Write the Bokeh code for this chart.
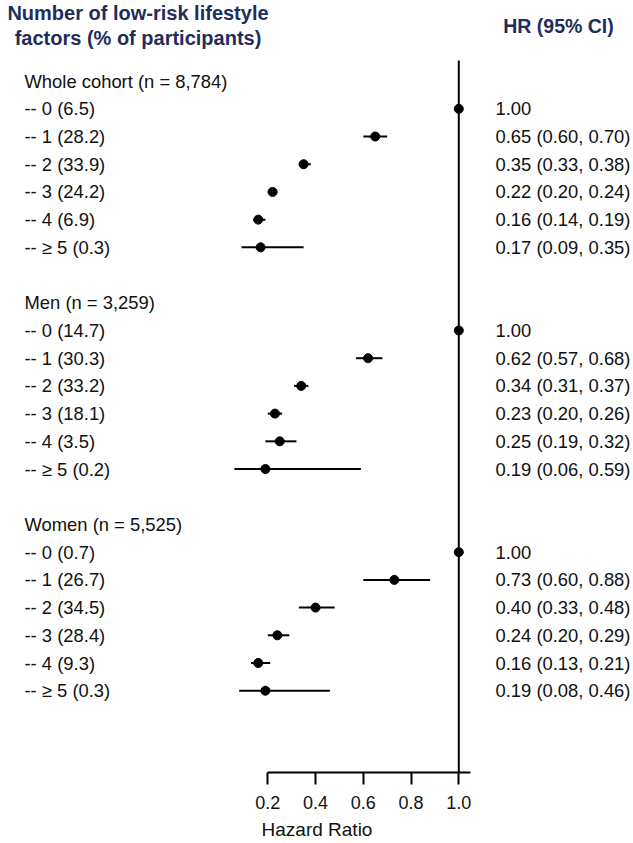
from bokeh.plotting import figure
from bokeh.models import Range1d, FixedTicker
from bokeh.core.properties import value
from bokeh.embed import file_html
from bokeh.resources import INLINE

# ---------------- data ----------------
group_labels = ["Whole cohort (n = 8,784)", "Men (n = 3,259)", "Women (n = 5,525)"]
levels = ["0", "1", "2", "3", "4", "\u2265 5"]

pct_whole = [6.5, 28.2, 33.9, 24.2, 6.9, 0.3]
hr_whole = [1.00, 0.65, 0.35, 0.22, 0.16, 0.17]
lo_whole = [1.00, 0.60, 0.33, 0.20, 0.14, 0.09]
hi_whole = [1.00, 0.70, 0.38, 0.24, 0.19, 0.35]

pct_men = [14.7, 30.3, 33.2, 18.1, 3.5, 0.2]
hr_men = [1.00, 0.62, 0.34, 0.23, 0.25, 0.19]
lo_men = [1.00, 0.57, 0.31, 0.20, 0.19, 0.06]
hi_men = [1.00, 0.68, 0.37, 0.26, 0.32, 0.59]

pct_women = [0.7, 26.7, 34.5, 28.4, 9.3, 0.3]
hr_women = [1.00, 0.73, 0.40, 0.24, 0.16, 0.19]
lo_women = [1.00, 0.60, 0.33, 0.20, 0.13, 0.08]
hi_women = [1.00, 0.88, 0.48, 0.29, 0.21, 0.46]

tick_values = [0.2, 0.4, 0.6, 0.8, 1.0]
tick_labels = ["0.2", "0.4", "0.6", "0.8", "1.0"]
null_value = 1.0

# ---------------- layout helpers ----------------
FW, FH = 633, 772
PX_PER_UNIT = 238.75
PAGE_X_AT_02 = 267.3
ROW_PX = 27.71
ROW0_PAGE_Y = 80.6
ORIGIN = 0  # page offset of the figure

x_start = 0.2 - (PAGE_X_AT_02 - ORIGIN) / PX_PER_UNIT
x_end = x_start + FW / PX_PER_UNIT
y_top = (ORIGIN - ROW0_PAGE_Y) / ROW_PX
y_bottom = y_top + FH / ROW_PX


def px_x(page_x):
    return x_start + (page_x - ORIGIN) / PX_PER_UNIT


def px_row(page_y):
    return (page_y - ROW0_PAGE_Y) / ROW_PX


groups = [
    (group_labels[0], pct_whole, hr_whole, lo_whole, hi_whole),
    (group_labels[1], pct_men, hr_men, lo_men, hi_men),
    (group_labels[2], pct_women, hr_women, lo_women, hi_women),
]

left_text, left_y = [], []
hr_text, hr_y = [], []
pt_x, pt_y = [], []
ci_lo, ci_hi, ci_y = [], [], []

row = 0
for gname, pct, hr, lo, hi in groups:
    left_text.append(gname)
    left_y.append(row)
    row += 1
    for lev, pc, h, l, u in zip(levels, pct, hr, lo, hi):
        left_text.append(f"-- {lev} ({pc})")
        left_y.append(row)
        pt_x.append(h)
        pt_y.append(row)
        if l == u == h:
            hr_text.append(f"{h:.2f}")
        else:
            hr_text.append(f"{h:.2f} ({l:.2f}, {u:.2f})")
            ci_lo.append(l)
            ci_hi.append(u)
            ci_y.append(row)
        hr_y.append(row)
        row += 1
    row += 1

FONT = value("Liberation Sans")
NAVY = "#1f2d5c"
INK = "#111111"

p = figure(
    frame_width=FW, frame_height=FH,
    x_range=Range1d(x_start, x_end), y_range=Range1d(y_bottom, y_top),
    output_backend="svg", toolbar_location=None,
    y_axis_location=None,
    min_border_left=0, min_border_right=0, min_border_top=0, min_border_bottom=0,
)
p.outline_line_color = None
p.xgrid.visible = False
p.ygrid.visible = False
p.background_fill_color = "white"
p.border_fill_color = "white"

# reference line at HR = 1
p.segment(x0=[null_value], y0=[px_row(60)], x1=[null_value], y1=[y_bottom],
          line_color="black", line_width=2)

# confidence intervals
p.segment(x0=ci_lo, y0=ci_y, x1=ci_hi, y1=ci_y, line_color="black", line_width=2)

# point estimates
p.scatter(pt_x, pt_y, marker="circle", size=9, fill_color="black", line_color="black")

# left labels
p.text(x=[px_x(24)] * len(left_text), y=left_y, text=left_text,
       text_font=FONT, text_font_size="18.4px", text_color=INK,
       text_baseline="middle", text_align="left")

# HR text
p.text(x=[px_x(495)] * len(hr_text), y=hr_y, text=hr_text,
       text_font=FONT, text_font_size="18.4px", text_color=INK,
       text_baseline="middle", text_align="left")

# headers
p.text(x=[px_x(137.5), px_x(137.5)], y=[px_row(12), px_row(37)],
       text=["Number of low-risk lifestyle", "factors (% of participants)"],
       text_font=FONT, text_font_size="20px", text_font_style="bold",
       text_color=NAVY, text_baseline="middle", text_align="center")
p.text(x=[px_x(558)], y=[px_row(25)], text=["HR (95% CI)"],
       text_font=FONT, text_font_size="19.5px", text_font_style="bold",
       text_color=NAVY, text_baseline="middle", text_align="center")

# x axis
ax = p.xaxis[0]
ax.bounds = (0.2, 1.05)
ax.ticker = FixedTicker(ticks=tick_values)
ax.major_label_overrides = {v: l for v, l in zip(tick_values, tick_labels)}
ax.axis_line_width = 2
ax.axis_line_color = "black"
ax.major_tick_line_width = 2
ax.major_tick_line_color = "black"
ax.major_tick_in = 0
ax.major_tick_out = 12
ax.minor_tick_line_color = None
ax.major_label_text_font = "Liberation Sans"
ax.major_label_text_font_size = "18px"
ax.major_label_text_color = INK
ax.major_label_standoff = 11
ax.axis_label = "Hazard Ratio"
ax.axis_label_text_font = "Liberation Sans"
ax.axis_label_text_font_size = "19px"
ax.axis_label_text_font_style = "normal"
ax.axis_label_text_color = INK
ax.axis_label_standoff = 7

open("out.html", "w").write(file_html(p, INLINE))
